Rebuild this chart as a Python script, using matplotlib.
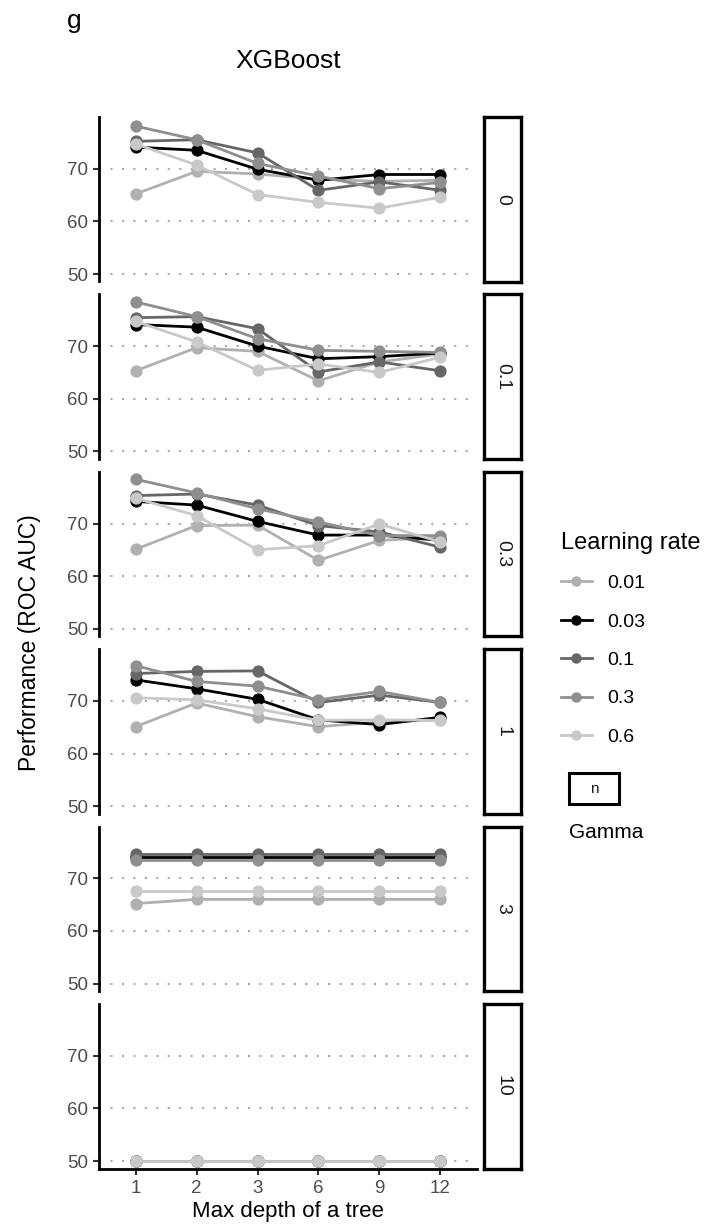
"""
XGBoost grid search: ROC AUC against tree depth, one panel per gamma,
one line per learning rate. Saves out.png.
"""
import matplotlib
matplotlib.use("Agg")
import matplotlib.pyplot as plt
from matplotlib.lines import Line2D
from matplotlib.patches import Rectangle

plt.rcParams["font.family"] = ["Liberation Sans", "DejaVu Sans"]

depths = ["1", "2", "3", "6", "9", "12"]
gammas = ["0", "0.1", "0.3", "1", "3", "10"]
learning_rates = ["0.01", "0.03", "0.1", "0.3", "0.6"]
lr_colors = ["#b0b0b0", "#000000", "#666666", "#8f8f8f", "#c9c9c9"]

# rows follow learning_rates, columns follow depths
auc_gamma_0 = [
    [65.2, 69.5, 69.0, 68.0, 67.6, 67.8],
    [74.1, 73.5, 69.9, 67.8, 68.9, 68.9],
    [75.2, 75.5, 73.0, 65.9, 67.5, 65.9],
    [78.1, 75.5, 71.0, 68.6, 66.2, 67.4],
    [74.7, 70.7, 65.1, 63.6, 62.5, 64.6],
]
auc_gamma_01 = [
    [65.3, 69.7, 69.0, 63.4, 67.0, 68.5],
    [74.1, 73.6, 70.0, 67.6, 68.0, 68.7],
    [75.4, 75.6, 73.3, 65.1, 67.0, 65.3],
    [78.4, 75.6, 71.4, 69.2, 69.0, 68.8],
    [74.7, 70.8, 65.4, 66.6, 65.0, 67.9],
]
auc_gamma_03 = [
    [65.1, 69.6, 69.7, 63.0, 66.8, 67.4],
    [74.2, 73.5, 70.4, 67.8, 67.8, 66.8],
    [75.3, 75.6, 73.5, 69.6, 68.4, 65.5],
    [78.4, 75.8, 72.8, 70.3, 67.7, 67.7],
    [74.8, 71.5, 65.0, 65.8, 69.9, 66.5],
]
auc_gamma_1 = [
    [65.1, 69.6, 67.0, 65.1, 66.0, 66.4],
    [74.0, 72.3, 70.3, 66.4, 65.5, 66.9],
    [75.2, 75.6, 75.7, 69.7, 71.1, 69.7],
    [76.7, 73.7, 72.8, 70.2, 71.8, 69.7],
    [70.6, 70.2, 68.5, 66.3, 66.4, 66.3],
]
auc_gamma_3 = [
    [65.2, 66.0, 66.0, 66.0, 66.0, 66.0],
    [74.1, 74.1, 74.1, 74.1, 74.1, 74.1],
    [74.6, 74.6, 74.6, 74.6, 74.6, 74.6],
    [73.4, 73.4, 73.4, 73.4, 73.4, 73.4],
    [67.5, 67.5, 67.5, 67.5, 67.5, 67.5],
]
auc_gamma_10 = [
    [50.0, 50.0, 50.0, 50.0, 50.0, 50.0],
    [50.0, 50.0, 50.0, 50.0, 50.0, 50.0],
    [50.0, 50.0, 50.0, 50.0, 50.0, 50.0],
    [50.0, 50.0, 50.0, 50.0, 50.0, 50.0],
    [50.0, 50.0, 50.0, 50.0, 50.0, 50.0],
]
panels = [auc_gamma_0, auc_gamma_01, auc_gamma_03,
          auc_gamma_1, auc_gamma_3, auc_gamma_10]

W, H = 709, 1230
TICK_GREY = "#4d4d4d"


def fx(px):
    return px / W


def fy(px):
    # pixel rows count from the top
    return 1 - px / H


def y_limits(tables, expand=0.05):
    vals = [v for t in tables for row in t for v in row]
    lo, hi = min(vals), max(vals)
    pad = (hi - lo) * expand
    return lo - pad, hi + pad


fig = plt.figure(figsize=(W / 100, H / 100), dpi=100)
ylo, yhi = y_limits(panels)
xpos = list(range(1, len(depths) + 1))

left, right = 99, 477
top0, step, height = 117, 177.4, 164.5

for k, (gamma, table) in enumerate(zip(gammas, panels)):
    top = top0 + k * step
    ax = fig.add_axes([fx(left), fy(top + height), fx(right - left), height / H])
    for lr_vals, color in zip(table, lr_colors):
        ax.plot(xpos, lr_vals, color=color, lw=2.0, marker="o", ms=7.8,
                solid_capstyle="butt", zorder=3)
    ax.set_xlim(0.4, len(depths) + 0.6)
    ax.set_ylim(ylo, yhi)
    ax.set_yticks([50, 60, 70])
    ax.yaxis.grid(True, color="#aaaaaa", lw=1.5, linestyle=(0, (1.0, 4.5)))
    ax.set_axisbelow(True)
    for side in ("top", "right"):
        ax.spines[side].set_visible(False)
    ax.spines["left"].set_linewidth(2.0)
    ax.tick_params(axis="y", labelsize=13.5, labelcolor=TICK_GREY,
                   color="#333333", width=1.5, length=4, pad=4)
    ax.set_xticks(xpos)
    if k == len(gammas) - 1:
        ax.spines["bottom"].set_linewidth(2.0)
        ax.set_xticklabels(depths)
        ax.tick_params(axis="x", labelsize=13.5, labelcolor=TICK_GREY,
                       color="#333333", width=1.5, length=4, pad=4)
        ax.set_xlabel("Max depth of a tree", fontsize=16, labelpad=3)
    else:
        ax.spines["bottom"].set_visible(False)
        ax.tick_params(axis="x", length=0, labelbottom=False)

    # facet strip on the right
    sx = fig.add_axes([fx(484), fy(top + height), fx(37), height / H])
    sx.set_xticks([])
    sx.set_yticks([])
    for sp in sx.spines.values():
        sp.set_linewidth(2.4)
        sp.set_color("black")
    sx.text(0.5, 0.5, gamma, rotation=-90, ha="center", va="center",
            fontsize=14, color="#1a1a1a", transform=sx.transAxes)

fig.text(fx(30), fy(643), "Performance (ROC AUC)", rotation=90,
         ha="center", va="center", fontsize=16.5)
fig.text(fx(288), fy(61), "XGBoost", ha="center", va="center", fontsize=19)
fig.text(fx(67), fy(28), "g", ha="left", va="baseline", fontsize=19)

# legend for learning rate
handles = [Line2D([], [], color=c, lw=2.0, marker="o", ms=6.5) for c in lr_colors]
fig.legend(handles, learning_rates, title="Learning rate", loc="upper left",
           bbox_to_anchor=(fx(553), fy(524)), frameon=False, fontsize=14,
           title_fontsize=17, labelspacing=1.07, handlelength=1.6,
           handletextpad=0.8, alignment="left", borderaxespad=0)

# key for the facet strips
fig.patches.append(Rectangle((fx(569), fy(804)), fx(50), 31 / H,
                             transform=fig.transFigure, fill=False,
                             ec="black", lw=2.2))
fig.text(fx(594), fy(789), "n", ha="center", va="center", fontsize=11,
         color="#1a1a1a")
fig.text(fx(569), fy(833), "Gamma", ha="left", va="center", fontsize=15)

fig.savefig("out.png", dpi=100)
